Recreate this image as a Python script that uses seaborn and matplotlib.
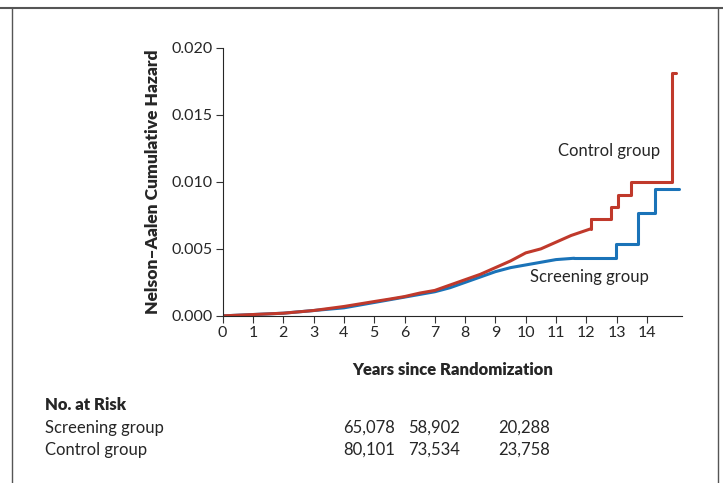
import numpy as np
import pandas as pd
import seaborn as sns
import matplotlib.pyplot as plt
from matplotlib.lines import Line2D

# Nelson-Aalen cumulative hazard
# smooth early part (many small steps) and the later visible steps
ctrl_t = [0, 1, 2, 3, 4, 5, 5.5, 6, 6.5, 7, 7.5, 8, 8.5, 9, 9.5, 10, 10.5, 11, 11.5, 12.15]
ctrl_h = [0, 0.0001, 0.0002, 0.0004, 0.0007, 0.00107, 0.00125, 0.00144, 0.0017, 0.0019, 0.0023, 0.0027, 0.0031, 0.0036, 0.0041, 0.0047, 0.0050, 0.0055, 0.0060, 0.0065]
ctrl_step_t = [12.15, 12.8, 13.05, 13.46, 14.82, 14.95]
ctrl_step_h = [0.0072, 0.0081, 0.0090, 0.0100, 0.0181, 0.0181]
scr_t = [0, 1, 2, 3, 4, 5, 5.5, 6, 6.5, 7, 7.5, 8, 8.5, 9, 9.5, 10, 10.5, 11, 11.6]
scr_h = [0, 0.0001, 0.0002, 0.0004, 0.0006, 0.0010, 0.0012, 0.0014, 0.0016, 0.0018, 0.0021, 0.0025, 0.0029, 0.0033, 0.0036, 0.0038, 0.0040, 0.0042, 0.0043]
scr_step_t = [11.6, 12.97, 13.71, 14.28, 15.05]
scr_step_h = [0.0043, 0.0054, 0.0077, 0.0095, 0.0095]

risk_groups = ["Screening group", "Control group"]
risk_values = [["65,078", "58,902", "20,288"], ["80,101", "73,534", "23,758"]]

red = "#c0392b"
blue = "#1a73b8"

sns.set_style("ticks")
plt.rcParams['font.family'] = ['Lato', 'DejaVu Sans']

fig = plt.figure(figsize=(7.23, 4.83), dpi=100)
ax = fig.add_axes([0.308, 0.346, 0.635, 0.555])
kw = dict(ax=ax, lw=2.2, estimator=None, sort=False)
sns.lineplot(x=scr_t, y=scr_h, color=blue, **kw)
sns.lineplot(x=scr_step_t, y=scr_step_h, color=blue, drawstyle="steps-post", **kw)
sns.lineplot(x=ctrl_t, y=ctrl_h, color=red, **kw)
sns.lineplot(x=ctrl_step_t, y=ctrl_step_h, color=red, drawstyle="steps-post", **kw)
# connect smooth part to first step
sns.lineplot(x=[ctrl_t[-1], ctrl_step_t[0]], y=[ctrl_h[-1], ctrl_step_h[0]], color=red, **kw)

ax.set_xlim(0, 15.15)
ax.set_ylim(0, 0.020)
ax.set_xticks(range(15))
ax.set_yticks([0, 0.005, 0.010, 0.015, 0.020])
ax.set_yticklabels(["0.000", "0.005", "0.010", "0.015", "0.020"])
ax.tick_params(labelsize=11.5, length=5, color="#333333", pad=2)
sns.despine(ax=ax)
ax.set_xlabel("Years since Randomization", fontsize=12, fontweight="heavy", labelpad=16)
ax.set_ylabel("Nelson\u2013Aalen Cumulative Hazard", fontsize=12.5, fontweight="heavy", labelpad=8)

ax.text(11.05, 0.0119, "Control group", fontsize=12)
ax.text(10.15, 0.0025, "Screening group", fontsize=12)

# no. at risk table
fig.text(45 / 723, 1 - 405 / 483, "No. at Risk", fontsize=12, fontweight="heavy", va="center")
cols = [395, 460, 550]
for i, g in enumerate(risk_groups):
    y = 1 - (428 + 22 * i) / 483
    fig.text(45 / 723, y, g, fontsize=12, va="center")
    for c, v in zip(cols, risk_values[i]):
        fig.text(c / 723, y, v, fontsize=12, va="center", ha="right")

# frame
fig.add_artist(Line2D([0, 1], [1 - 8 / 483] * 2, color="#555555", lw=1.5))
fig.add_artist(Line2D([12 / 723] * 2, [0, 1 - 8 / 483], color="#555555", lw=1))
fig.add_artist(Line2D([718 / 723] * 2, [0, 1 - 8 / 483], color="#555555", lw=1))

fig.savefig("out.png", dpi=100)
